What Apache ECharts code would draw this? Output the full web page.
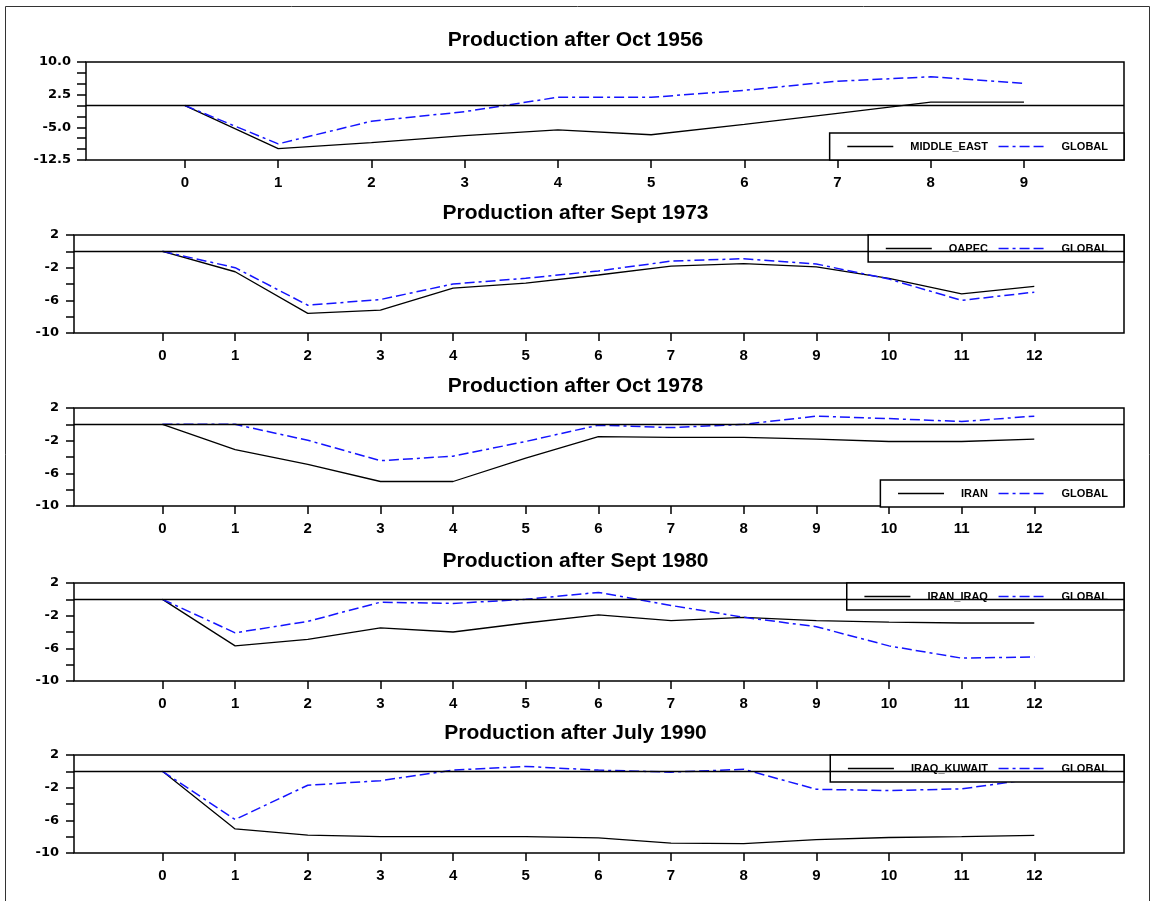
<!DOCTYPE html>
<html>
<head>
<meta charset="utf-8">
<script src="https://cdn.jsdelivr.net/npm/echarts@6/dist/echarts.min.js"></script>
<style>html,body{margin:0;padding:0;background:#fff}#c{width:1151px;height:901px}</style>
</head>
<body>
<div id="c"></div>
<script>
// ---- data ----
const titles = ['Production after Oct 1956', 'Production after Sept 1973', 'Production after Oct 1978', 'Production after Sept 1980', 'Production after July 1990'];
const regionNames = ['MIDDLE_EAST', 'OAPEC', 'IRAN', 'IRAN_IRAQ', 'IRAQ_KUWAIT'];
const xTicks1 = [0, 1, 2, 3, 4, 5, 6, 7, 8, 9];
const xTicks = [0, 1, 2, 3, 4, 5, 6, 7, 8, 9, 10, 11, 12];
const yLabels1 = [10, 2.5, -5, -12.5];
const yLabels = [2, -2, -6, -10];

const middleEast = [0, -9.9, -8.5, -6.9, -5.6, -6.7, -4.3, -1.8, 0.8, 0.8];
const global1956 = [0, -8.8, -3.6, -1.4, 1.9, 1.9, 3.5, 5.6, 6.6, 5.1];

const oapec = [0, -2.5, -7.6, -7.2, -4.5, -3.9, -2.9, -1.8, -1.5, -1.9, -3.3, -5.2, -4.3];
const global1973 = [0, -2.0, -6.6, -5.9, -4.0, -3.3, -2.4, -1.2, -0.9, -1.55, -3.4, -6.0, -5.0];

const iran = [0, -3.1, -4.9, -7.0, -7.0, -4.15, -1.5, -1.6, -1.6, -1.8, -2.1, -2.1, -1.8];
const global1978 = [0, 0, -1.95, -4.45, -3.9, -2.1, -0.1, -0.4, 0.0, 1.0, 0.7, 0.35, 1.0];

const iranIraq = [0, -5.7, -4.9, -3.5, -4.0, -2.9, -1.9, -2.6, -2.2, -2.6, -2.8, -2.9, -2.9];
const global1980 = [0, -4.1, -2.7, -0.35, -0.5, 0.0, 0.85, -0.75, -2.2, -3.35, -5.7, -7.2, -7.05];

const iraqKuwait = [0, -7.05, -7.8, -8.0, -8.0, -8.0, -8.15, -8.8, -8.85, -8.35, -8.1, -8.0, -7.85];
const global1990 = [0, -5.9, -1.7, -1.15, 0.15, 0.6, 0.15, -0.1, 0.25, -2.2, -2.35, -2.15, -0.9];

// ---- layout ----
const panels = [
  {x: xTicks1, region: middleEast, glob: global1956, xmin: -1.062, xmax: 10.073, ymin: -12.5, ymax: 10, yint: 2.5, ylab: yLabels1, dec: 1, left: 86, top: 62, legend: {bottom: 741}, tick: 9},
  {x: xTicks, region: oapec, glob: global1973, xmin: -1.218, xmax: 13.235, ymin: -10, ymax: 2, yint: 2, ylab: yLabels, dec: 0, left: 74, top: 235, legend: {top: 235}, tick: 8},
  {x: xTicks, region: iran, glob: global1978, xmin: -1.218, xmax: 13.235, ymin: -10, ymax: 2, yint: 2, ylab: yLabels, dec: 0, left: 74, top: 408, legend: {bottom: 394}, tick: 8},
  {x: xTicks, region: iranIraq, glob: global1980, xmin: -1.218, xmax: 13.235, ymin: -10, ymax: 2, yint: 2, ylab: yLabels, dec: 0, left: 74, top: 583, legend: {top: 583}, tick: 8},
  {x: xTicks, region: iraqKuwait, glob: global1990, xmin: -1.218, xmax: 13.235, ymin: -10, ymax: 2, yint: 2, ylab: yLabels, dec: 0, left: 74, top: 755, legend: {top: 755}, tick: 8}
];

const BLUE = '#1414ff';
const option = {
  animation: false,
  backgroundColor: '#fff',
  title: [], grid: [], xAxis: [], yAxis: [], series: [], legend: [],
  graphic: [{
    type: 'rect', silent: true, z: 0,
    shape: {x: 5.5, y: 6.5, width: 1144, height: 910},
    style: {fill: 'none', stroke: '#333', lineWidth: 1}
  }]
};

panels.forEach((p, i) => {
  option.title.push({
    text: titles[i], left: 'center', top: p.top - 32, padding: [0, 0, 0, 9],
    textStyle: {fontFamily: 'Liberation Sans', fontWeight: 'bold', fontSize: 21, color: '#000'}
  });
  option.grid.push({
    left: p.left, right: 27, top: p.top, height: 98,
    show: true, borderColor: '#000', borderWidth: 1.5, backgroundColor: 'rgba(0,0,0,0)'
  });
  option.xAxis.push({
    type: 'value', gridIndex: i, min: p.xmin, max: p.xmax, position: 'bottom',
    axisLine: {show: false, onZero: false},
    splitLine: {show: false},
    axisTick: {show: true, customValues: p.x, length: 8, lineStyle: {color: '#000', width: 1.5}},
    axisLabel: {show: true, customValues: p.x, margin: 15, color: '#000',
      fontFamily: 'Liberation Sans', fontWeight: 'bold', fontSize: 15}
  });
  option.yAxis.push({
    type: 'value', gridIndex: i, min: p.ymin, max: p.ymax, interval: p.yint,
    axisLine: {show: false, onZero: false},
    splitLine: {show: false},
    axisTick: {show: true, length: p.tick, lineStyle: {color: '#000', width: 1.5}},
    axisLabel: {
      show: true, margin: 15, color: '#000',
      fontFamily: 'DejaVu Sans', fontWeight: 'bold', fontSize: 13,
      formatter: (v) => p.ylab.some(l => Math.abs(l - v) < 1e-6) ? v.toFixed(p.dec) : ''
    }
  });
  option.series.push({
    name: regionNames[i], type: 'line', xAxisIndex: i, yAxisIndex: i,
    symbol: 'none', z: 3,
    data: p.region.map((v, k) => [p.x[k], v]),
    lineStyle: {color: '#000', width: 1.3},
    itemStyle: {color: '#000'},
    markLine: {
      silent: true, symbol: ['none', 'none'], label: {show: false},
      lineStyle: {color: '#000', width: 1.4, type: 'solid'},
      emphasis: {disabled: true},
      data: [{yAxis: 0}]
    }
  });
  option.series.push({
    name: 'GLOBAL', type: 'line', xAxisIndex: i, yAxisIndex: i,
    symbol: 'none', z: 3,
    data: p.glob.map((v, k) => [p.x[k], v]),
    lineStyle: {color: BLUE, width: 1.5, type: [10, 4, 3, 4, 10, 4]},
    itemStyle: {color: BLUE}
  });
  option.legend.push(Object.assign({
    data: [regionNames[i], 'GLOBAL'], right: 27, orient: 'horizontal',
    itemWidth: 46, itemHeight: 10, itemGap: 10,
    padding: [8, 16, 8, 17],
    borderColor: '#000', borderWidth: 1.5, borderRadius: 0, backgroundColor: '#fff',
    selectedMode: false,
    itemStyle: {opacity: 0},
    lineStyle: {width: 1.3},
    textStyle: {fontFamily: 'Liberation Sans', fontWeight: 'bold', fontSize: 11, color: '#000', padding: [0, 0, 0, 12]}
  }, p.legend));
});

const chart = echarts.init(document.getElementById('c'), null, {renderer: 'canvas'});
chart.setOption(option);
</script>
</body>
</html>
